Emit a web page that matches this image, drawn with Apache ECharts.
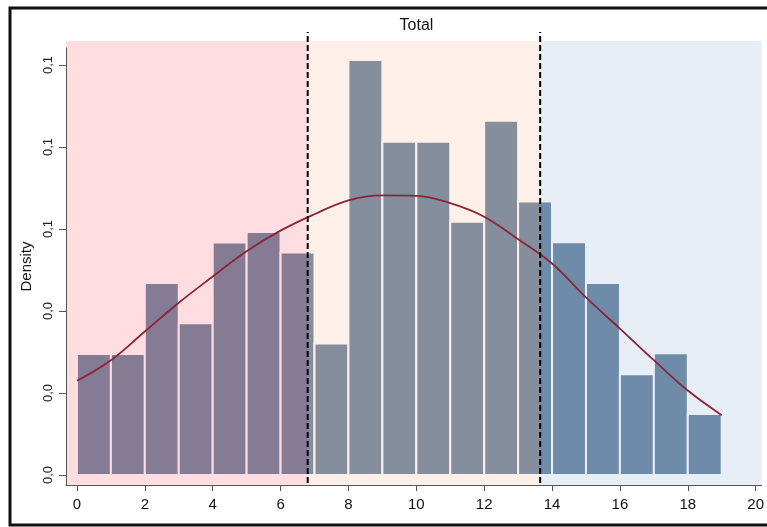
<!DOCTYPE html>
<html>
<head>
<meta charset="utf-8">
<script src="https://cdn.jsdelivr.net/npm/echarts@6/dist/echarts.min.js"></script>
<style>html,body{margin:0;padding:0;background:#fff}#c{width:767px;height:527px}</style>
</head>
<body>
<div id="c"></div>
<script>
// Histogram bins (left edges, width 1) and densities
const binStarts = [0,1,2,3,4,5,6,7,8,9,10,11,12,13,14,15,16,17,18];
const densities = [0.0295,0.0295,0.0468,0.0370,0.0567,0.0593,0.0543,0.0321,0.1012,0.0813,0.0813,0.0618,0.0864,0.0667,0.0568,0.0468,0.0246,0.0297,0.0149];
// Density curve
const curveX = [0,1,2,3,4,5,6,7,8,9,10,11,12,13,14,15,16,17,18,19];
const curveY = [0.0230,0.0280,0.0350,0.0420,0.0484,0.0546,0.0596,0.0636,0.0670,0.0682,0.0681,0.0663,0.0630,0.0575,0.0516,0.0433,0.0357,0.0280,0.0206,0.0146];
// Cut points (dashed lines)
const cutPoints = [6.80, 13.65];
// Tick values
const xTicks = [0,2,4,6,8,10,12,14,16,18,20];
const yTicks = [0,0.02,0.04,0.06,0.08,0.10];
// Axis extents
const XMIN = -0.3226, XMAX = 20.176, YMIN = -0.00244, YMAX = 0.10415, PLOT_TOP = 0.10585;

const regionColors = ['rgba(255,187,193,0.5)','rgba(253,225,209,0.5)','rgba(209,221,237,0.5)'];
const regions = [[XMIN, cutPoints[0]], [cutPoints[0], cutPoints[1]], [cutPoints[1], XMAX]];

const chart = echarts.init(document.getElementById('c'));
const FONT = 'Liberation Sans, Arial, sans-serif';
chart.setOption({
  animation: false,
  backgroundColor: '#fff',
  grid: {left: 66, right: 2, top: 48, bottom: 42},
  graphic: [
    {type: 'rect', shape: {x: 10, y: 8, width: 790, height: 517}, style: {fill: 'none', stroke: '#111', lineWidth: 3}, z: 100},
    {type: 'text', x: 416.5, y: 26, style: {text: 'Total', font: '16px ' + FONT, fill: '#111', textAlign: 'center', textVerticalAlign: 'middle'}}
  ],
  xAxis: {
    type: 'value', min: XMIN, max: XMAX, z: 10,
    axisLine: {show: true, onZero: false, lineStyle: {color: '#555', width: 1}},
    axisTick: {show: true, customValues: xTicks, length: 6, lineStyle: {color: '#555'}},
    axisLabel: {customValues: xTicks, fontSize: 15, color: '#111', margin: 12, fontFamily: FONT},
    splitLine: {show: false}
  },
  yAxis: {
    type: 'value', min: YMIN, max: YMAX, z: 10,
    name: 'Density', nameLocation: 'middle', nameGap: 32,
    nameTextStyle: {fontSize: 15, color: '#111', fontFamily: FONT},
    axisLine: {show: true, onZero: false, lineStyle: {color: '#555', width: 1}},
    axisTick: {show: true, customValues: yTicks, length: 7, lineStyle: {color: '#555'}},
    axisLabel: {customValues: yTicks, rotate: 90, fontSize: 13, color: '#222', margin: 11, fontFamily: FONT,
      formatter: v => v.toFixed(1).replace('.', ',')},
    splitLine: {show: false}
  },
  series: [
    {
      type: 'custom', z: 2, clip: false,
      data: binStarts.map((s, i) => [s, densities[i]]),
      renderItem: (params, api) => {
        const x0 = api.value(0), v = api.value(1);
        const p0 = api.coord([x0, v]);
        const p1 = api.coord([x0 + 1, 0]);
        return {type: 'rect', shape: {x: p0[0], y: p0[1], width: p1[0] - p0[0], height: p1[1] - p0[1]},
          style: {fill: '#0B3B67', stroke: '#fff', lineWidth: 2}};
      }
    },
    {
      type: 'custom', z: 3, silent: true, clip: false,
      data: regions.map((r, i) => [r[0], r[1], i]),
      renderItem: (params, api) => {
        const a = api.value(0), b = api.value(1), idx = api.value(2);
        const p0 = api.coord([a, PLOT_TOP]);
        const p1 = api.coord([b, YMIN]);
        return {type: 'rect', shape: {x: p0[0], y: p0[1], width: p1[0] - p0[0], height: p1[1] - p0[1]},
          style: {fill: regionColors[idx]}};
      }
    },
    {
      type: 'line', z: 4, smooth: 0.4, symbol: 'none',
      data: curveX.map((x, i) => [x, curveY[i]]),
      lineStyle: {color: '#8B2535', width: 1.8}
    },
    {
      type: 'custom', z: 5, silent: true, clip: false,
      data: cutPoints.map(c => [c]),
      renderItem: (params, api) => {
        const c = api.value(0);
        const pb = api.coord([c, YMIN]);
        const pt = api.coord([c, PLOT_TOP]);
        return {type: 'line', shape: {x1: pb[0], y1: pb[1] - 2, x2: pt[0], y2: pt[1] - 9},
          style: {stroke: '#000', lineWidth: 2, lineDash: [6, 3]}};
      }
    }
  ]
});
</script>
</body>
</html>
